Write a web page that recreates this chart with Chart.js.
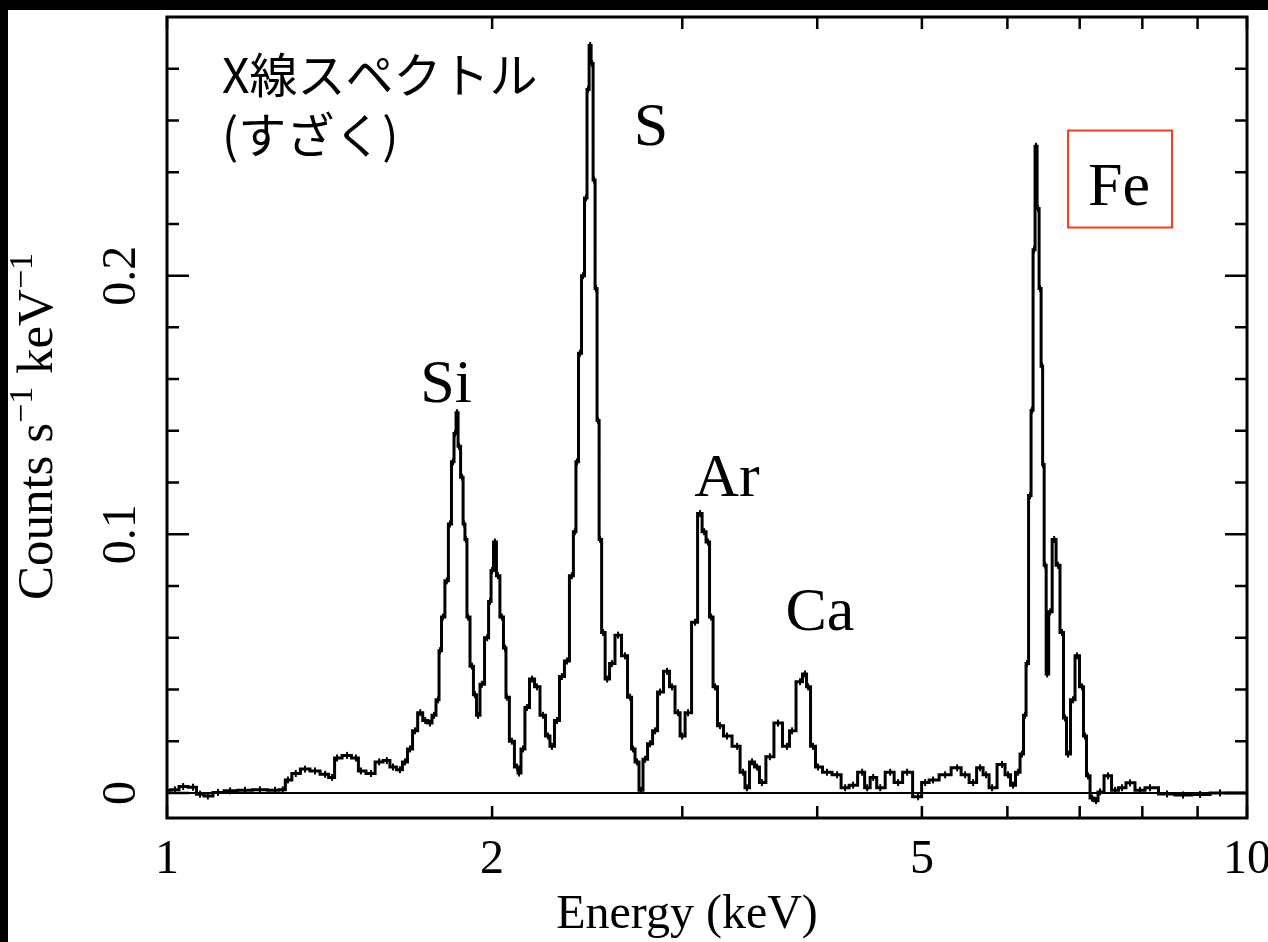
<!DOCTYPE html>
<html lang="ja">
<head>
<meta charset="utf-8">
<title>X線スペクトル (すざく)</title>
<script src="https://cdn.jsdelivr.net/npm/chart.js@4.4.1/dist/chart.umd.min.js"></script>
<style>
  html, body { margin: 0; padding: 0; background: #000; }
  #frame { position: absolute; left: 8px; top: 10px; width: 1260px; height: 932px; background: #fff; }
</style>
</head>
<body>
<div id="frame"><canvas id="spectrum"></canvas></div>
<script>
// Suzaku X-ray spectrum: count rate per energy bin (keV)
const energyKeV = [
  1.000, 1.017, 1.035, 1.057, 1.073, 1.091, 1.115, 1.144, 1.181, 1.219,
  1.259, 1.280, 1.294, 1.316, 1.342, 1.371, 1.401, 1.422, 1.437, 1.468,
  1.496, 1.512, 1.545, 1.572, 1.598, 1.619, 1.643, 1.661, 1.679, 1.697,
  1.716, 1.734, 1.752, 1.767, 1.782, 1.790, 1.801, 1.816, 1.828, 1.840,
  1.848, 1.856, 1.864, 1.876, 1.884, 1.891, 1.900, 1.916, 1.928, 1.941,
  1.957, 1.979, 1.991, 2.000, 2.012, 2.025, 2.042, 2.056, 2.064, 2.086,
  2.109, 2.118, 2.136, 2.154, 2.178, 2.201, 2.229, 2.253, 2.272, 2.297,
  2.321, 2.346, 2.371, 2.386, 2.397, 2.412, 2.428, 2.443, 2.454, 2.465,
  2.475, 2.486, 2.496, 2.507, 2.518, 2.534, 2.556, 2.582, 2.616, 2.655,
  2.684, 2.701, 2.724, 2.747, 2.771, 2.801, 2.831, 2.861, 2.904, 2.935,
  2.973, 2.999, 3.037, 3.083, 3.116, 3.143, 3.169, 3.190, 3.217, 3.251,
  3.300, 3.372, 3.415, 3.443, 3.481, 3.518, 3.555, 3.616, 3.679, 3.750,
  3.791, 3.856, 3.897, 3.923, 3.964, 4.007, 4.084, 4.173, 4.245, 4.318,
  4.402, 4.449, 4.507, 4.575, 4.673, 4.753, 4.845, 4.960, 5.035, 5.121,
  5.254, 5.390, 5.483, 5.577, 5.661, 5.733, 5.807, 5.932, 6.008, 6.072,
  6.138, 6.190, 6.230, 6.257, 6.297, 6.324, 6.351, 6.378, 6.406, 6.433,
  6.461, 6.475, 6.503, 6.531, 6.573, 6.629, 6.683, 6.741, 6.784, 6.828,
  6.901, 6.960, 7.034, 7.079, 7.125, 7.187, 7.248, 7.310, 7.436, 7.548,
  7.660, 7.792, 7.960, 8.132, 8.432, 8.724, 9.048, 9.441, 10.000
];
const countRate = [
  0.0010, 0.0012, 0.0025, 0.0022, -0.0005, -0.0012, 0.0002, 0.0008, 0.0010, 0.0012,
  0.0010, 0.0012, 0.0050, 0.0075, 0.0092, 0.0085, 0.0072, 0.0060, 0.0135, 0.0145,
  0.0135, 0.0085, 0.0075, 0.0120, 0.0125, 0.0100, 0.0090, 0.0120, 0.0170, 0.0240,
  0.0310, 0.0280, 0.0270, 0.0300, 0.0360, 0.0550, 0.0680, 0.0820, 0.1040, 0.1280,
  0.1390, 0.1470, 0.1340, 0.1220, 0.1040, 0.0980, 0.0680, 0.0490, 0.0380, 0.0300,
  0.0420, 0.0600, 0.0740, 0.0860, 0.0970, 0.0840, 0.0680, 0.0560, 0.0370, 0.0200,
  0.0100, 0.0077, 0.0170, 0.0330, 0.0440, 0.0410, 0.0300, 0.0220, 0.0180, 0.0280,
  0.0450, 0.0510, 0.0840, 0.1010, 0.1280, 0.1700, 0.2000, 0.2300, 0.2720, 0.2890,
  0.2820, 0.2370, 0.1950, 0.1440, 0.0980, 0.0620, 0.0440, 0.0500, 0.0610, 0.0530,
  0.0370, 0.0170, 0.0120, 0.0010, 0.0130, 0.0190, 0.0240, 0.0390, 0.0470, 0.0410,
  0.0310, 0.0220, 0.0310, 0.0660, 0.1080, 0.1010, 0.0970, 0.0680, 0.0410, 0.0260,
  0.0220, 0.0180, 0.0080, 0.0020, 0.0120, 0.0100, 0.0040, 0.0140, 0.0270, 0.0180,
  0.0240, 0.0430, 0.0460, 0.0410, 0.0180, 0.0100, 0.0080, 0.0070, 0.0020, 0.0030,
  0.0080, 0.0020, 0.0060, 0.0020, 0.0080, 0.0040, 0.0080, -0.0015, 0.0040, 0.0050,
  0.0070, 0.0097, 0.0070, 0.0040, 0.0097, 0.0070, 0.0020, 0.0110, 0.0070, 0.0030,
  0.0080, 0.0150, 0.0300, 0.0500, 0.1150, 0.1480, 0.2100, 0.2500, 0.2260, 0.1950,
  0.1650, 0.1270, 0.0880, 0.0460, 0.0700, 0.0980, 0.0880, 0.0620, 0.0290, 0.0150,
  0.0360, 0.0530, 0.0410, 0.0220, 0.0066, -0.0020, -0.0030, 0.0004, 0.0066, 0.0010,
  0.0020, 0.0039, 0.0010, 0.0020, -0.0004, -0.0008, -0.0006, 0.0000, 0.0000
];

const xTickLabels = [1, 2, 5, 10];
const xMinorTicks = [3, 4, 6, 7, 8, 9];
const yTickLabels = [0, 0.1, 0.2];

// emission lines and where their names sit (keV, counts)
const lineNames = ['Si', 'S', 'Ar', 'Ca', 'Fe'];
const lineLabelAt = {
  Si: [1.813, 0.1513],
  S:  [2.806, 0.2507],
  Ar: [3.300, 0.1149],
  Ca: [4.023, 0.0631],
  Fe: [7.611, 0.2275]
};
const feBox = { from: [6.828, 0.2561], to: [8.522, 0.2186] };

const SERIF = '"Liberation Serif", "Times New Roman", serif';
const JP = '"Noto Sans CJK JP", "Noto Sans", sans-serif';

const frameDecor = {
  id: 'frameDecor',
  beforeDatasetsDraw(chart) {
    const { ctx, chartArea: a, scales: { y } } = chart;
    const y0 = y.getPixelForValue(0);
    ctx.save();
    ctx.strokeStyle = '#000';
    ctx.lineWidth = 2;
    ctx.beginPath();
    ctx.moveTo(a.left, y0);
    ctx.lineTo(a.right, y0);
    ctx.stroke();
    ctx.restore();
  },
  afterDraw(chart) {
    const { ctx, chartArea: a, scales: { x, y } } = chart;
    ctx.save();
    ctx.strokeStyle = '#000';
    ctx.fillStyle = '#000';

    // box
    ctx.lineWidth = 3;
    ctx.strokeRect(a.left, a.top, a.right - a.left, a.bottom - a.top);

    // x ticks, pointing inward on top and bottom
    ctx.lineWidth = 2.5;
    ctx.beginPath();
    xTickLabels.concat(xMinorTicks).forEach(v => {
      const px = x.getPixelForValue(v);
      ctx.moveTo(px, a.bottom); ctx.lineTo(px, a.bottom - 12);
      ctx.moveTo(px, a.top); ctx.lineTo(px, a.top + 12);
    });
    // y ticks every 0.02, longer on labelled values
    for (let i = 0; i <= 14; i++) {
      const v = i * 0.02;
      const py = y.getPixelForValue(v);
      const len = (i % 5 === 0) ? 22 : 12;
      ctx.moveTo(a.left, py); ctx.lineTo(a.left + len, py);
      ctx.moveTo(a.right, py); ctx.lineTo(a.right - len, py);
    }
    ctx.stroke();

    // x tick labels
    ctx.font = '48px ' + SERIF;
    ctx.textAlign = 'center';
    ctx.textBaseline = 'alphabetic';
    xTickLabels.forEach(v => {
      ctx.fillText(String(v), x.getPixelForValue(v), a.bottom + 55);
    });

    // x title
    ctx.fillText('Energy (keV)', (a.left + a.right) / 2 - 20, a.bottom + 110);

    // y tick labels, rotated
    yTickLabels.forEach(v => {
      ctx.save();
      ctx.translate(a.left - 47, y.getPixelForValue(v));
      ctx.rotate(-Math.PI / 2);
      ctx.textBaseline = 'middle';
      ctx.fillText(String(v), 0, 2);
      ctx.restore();
    });

    // y title with superscripts
    const parts = [
      ['Counts s', 51, 0], ['\u22121', 34, -20],
      [' keV', 51, 0], ['\u22121', 34, -20]
    ];
    let total = 0;
    parts.forEach(p => { ctx.font = p[1] + 'px ' + SERIF; p.push(ctx.measureText(p[0]).width); total += p[3]; });
    ctx.save();
    ctx.translate(a.left - 115, (a.top + a.bottom) / 2 + 9);
    ctx.rotate(-Math.PI / 2);
    ctx.textAlign = 'left';
    let cx = -total / 2;
    parts.forEach(p => {
      ctx.font = p[1] + 'px ' + SERIF;
      ctx.fillText(p[0], cx, p[2]);
      cx += p[3];
    });
    ctx.restore();

    // element names
    ctx.font = '62px ' + SERIF;
    ctx.textAlign = 'center';
    lineNames.forEach(n => {
      const [e, c] = lineLabelAt[n];
      ctx.fillText(n, x.getPixelForValue(e), y.getPixelForValue(c));
    });

    // red box around Fe
    const bx0 = x.getPixelForValue(feBox.from[0]), by0 = y.getPixelForValue(feBox.from[1]);
    const bx1 = x.getPixelForValue(feBox.to[0]), by1 = y.getPixelForValue(feBox.to[1]);
    ctx.strokeStyle = '#f0401e';
    ctx.lineWidth = 2;
    ctx.strokeRect(bx0, by0, bx1 - bx0, by1 - by0);

    // caption
    ctx.font = '48px ' + JP;
    ctx.textAlign = 'left';
    ctx.fillText('X線スペクトル', a.left + 55, a.top + 76);
    ctx.fillText('(すざく)', a.left + 55, a.top + 136);

    ctx.restore();
  }
};

new Chart(document.getElementById('spectrum'), {
  type: 'line',
  data: {
    datasets: [{
      data: energyKeV.map((e, i) => ({ x: e, y: countRate[i] })),
      borderColor: '#000',
      borderWidth: 3,
      stepped: 'middle',
      pointStyle: 'line',
      pointRotation: 90,
      pointRadius: 3.5,
      pointBorderWidth: 2,
      pointBorderColor: '#000',
      fill: false
    }]
  },
  options: {
    responsive: true,
    maintainAspectRatio: false,
    animation: false,
    layout: { padding: { top: 7, right: 21, left: 0, bottom: 0 } },
    plugins: { legend: { display: false }, tooltip: { enabled: false } },
    scales: {
      x: {
        type: 'logarithmic', min: 1, max: 10,
        grid: { display: false }, border: { display: false },
        ticks: { display: false },
        afterFit(scale) { scale.height = 124; }
      },
      y: {
        type: 'linear', min: -0.0097, max: 0.3,
        grid: { display: false }, border: { display: false },
        ticks: { display: false },
        afterFit(scale) { scale.width = 159; }
      }
    }
  },
  plugins: [frameDecor]
});
</script>
</body>
</html>
